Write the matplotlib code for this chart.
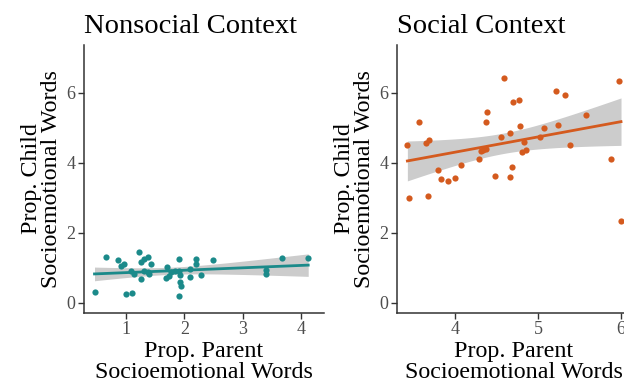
import numpy as np
import matplotlib
matplotlib.use("Agg")
import matplotlib.pyplot as plt

plt.rcParams['font.family'] = ['Liberation Serif', 'DejaVu Serif']

# Nonsocial context
nonsocial_parent = [0.46, 0.66, 0.87, 0.97, 0.91, 1.00, 1.10, 1.09, 1.14, 1.23,
                    1.26, 1.30, 1.38, 1.26, 1.31, 1.40, 1.43, 1.37, 1.70, 1.69,
                    1.73, 1.77, 1.84, 1.91, 1.91, 1.92, 1.93, 1.94, 1.90, 2.10,
                    2.10, 2.20, 2.20, 2.29, 2.49, 3.40, 3.40, 3.67, 4.12]
nonsocial_child = [0.30, 1.31, 1.22, 1.12, 1.06, 0.24, 0.29, 0.91, 0.82, 1.46,
                   1.17, 1.24, 1.31, 0.67, 0.91, 0.82, 1.10, 0.88, 1.03, 0.70,
                   0.77, 0.87, 0.91, 1.24, 0.91, 0.79, 0.60, 0.48, 0.20, 0.96,
                   0.74, 1.24, 1.10, 0.79, 1.22, 0.93, 0.81, 1.27, 1.27]

# Social context
social_parent = [3.43, 3.45, 3.57, 3.66, 3.69, 3.68, 3.80, 3.84, 3.92, 4.00,
                 4.08, 4.29, 4.31, 4.34, 4.37, 4.38, 4.39, 4.49, 4.56, 4.59,
                 4.66, 4.67, 4.69, 4.70, 4.77, 4.79, 4.83, 4.81, 4.86, 5.03,
                 5.07, 5.22, 5.24, 5.33, 5.39, 5.58, 5.88, 5.98, 6.00]
social_child = [4.51, 2.99, 5.16, 4.57, 4.66, 3.06, 3.79, 3.54, 3.48, 3.55,
                3.93, 4.11, 4.34, 4.36, 4.40, 5.16, 5.44, 3.61, 4.73, 6.43,
                3.59, 4.86, 3.89, 5.73, 5.79, 5.04, 4.60, 4.31, 4.36, 4.73,
                4.99, 6.06, 5.08, 5.92, 4.50, 5.36, 4.11, 6.33, 2.35]


def lm_band(x, y, t=2.026):
    x = np.asarray(x)
    y = np.asarray(y)
    n = len(x)
    b, a = np.polyfit(x, y, 1)
    resid = y - (a + b * x)
    s = np.sqrt(np.sum(resid ** 2) / (n - 2))
    xs = np.linspace(x.min(), x.max(), 100)
    fit = a + b * xs
    se = s * np.sqrt(1 / n + (xs - x.mean()) ** 2 / np.sum((x - x.mean()) ** 2))
    return xs, fit, fit - t * se, fit + t * se


def panel(ax, x, y, color, title, xlim):
    xs, fit, lo, hi = lm_band(x, y)
    ax.fill_between(xs, lo, hi, color='#cccccc', lw=0, zorder=1)
    ax.plot(xs, fit, color=color, lw=2, zorder=2)
    ax.scatter(x, y, s=20, color=color, lw=0, zorder=3)
    ax.set_xlim(*xlim)
    ax.set_ylim(-0.29, 7.36)
    ax.set_yticks([0, 2, 4, 6])
    for side in ['top', 'right']:
        ax.spines[side].set_visible(False)
    for side in ['left', 'bottom']:
        ax.spines[side].set_color('#333333')
        ax.spines[side].set_linewidth(1.1)
    ax.tick_params(colors='#333333', labelcolor='#4d4d4d', labelsize=13,
                   length=4, width=1, pad=2)
    ax.set_title(title, loc='left', fontsize=20.5, pad=9)
    ax.set_xlabel('Prop. Parent\nSocioemotional Words', fontsize=17.3,
                  linespacing=1.02, labelpad=2)
    ax.set_ylabel('Prop. Child\nSocioemotional Words', fontsize=17.3,
                  linespacing=0.97, labelpad=3)


fig = plt.figure(figsize=(6.24, 3.87), dpi=100)
ax1 = fig.add_axes([0.1346, 0.1912, 0.3846, 0.6925])
ax2 = fig.add_axes([0.6362, 0.1912, 0.375, 0.6925])

panel(ax1, nonsocial_parent, nonsocial_child, '#1b8a8a', 'Nonsocial Context', (0.28, 4.39))
ax1.set_xticks([1, 2, 3, 4])
panel(ax2, social_parent, social_child, '#d45a1e', 'Social Context', (3.305, 6.12))
ax2.set_xticks([4, 5, 6])

fig.savefig('out.png', dpi=100)
